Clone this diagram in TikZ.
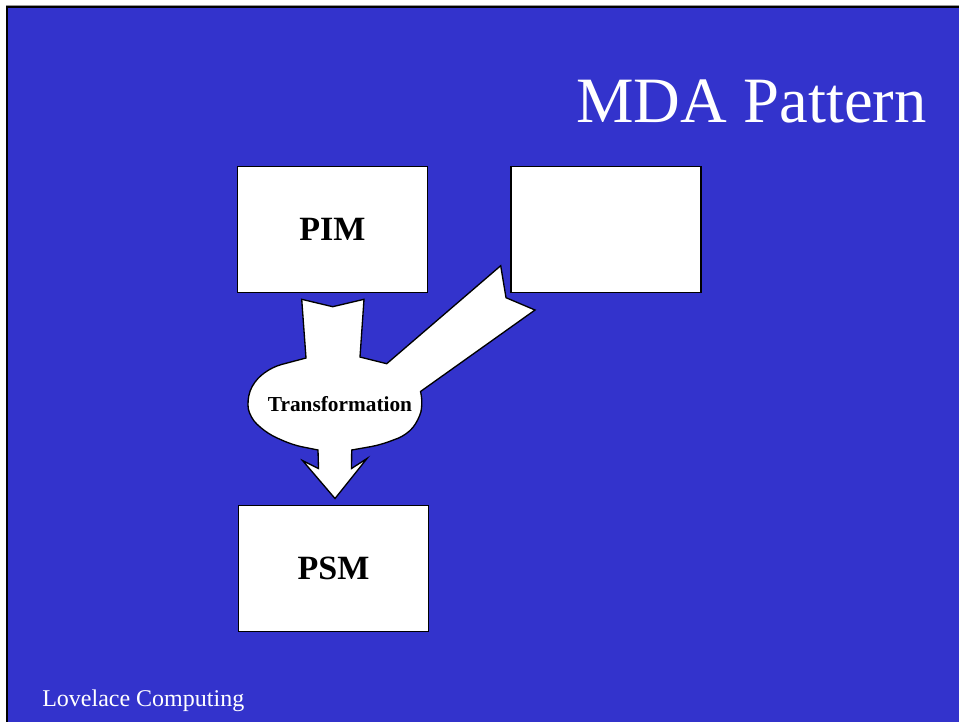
\documentclass[tikz,border=0pt]{standalone}
\usepackage{fontspec}
\setmainfont{Liberation Serif}
\usepackage{tikz}
\usetikzlibrary{positioning}
\definecolor{slideblue}{RGB}{51,51,204}
\definecolor{rulegray}{RGB}{150,150,150}

\begin{document}
\begin{tikzpicture}[
    x=0.75pt, y=-0.75pt,
    model/.style={rectangle, draw=black, fill=white, line width=1.1pt,
      minimum width=142.5pt, minimum height=94.5pt, inner sep=0,
      font=\fontsize{25.5}{28}\selectfont\bfseries},
    flow/.style={draw=black, fill=white, line width=1pt, line join=miter},
    title/.style={text=white, anchor=base east, inner sep=0,
      font=\fontsize{48.5}{54}\selectfont},
    footer/.style={text=white, anchor=base west, inner sep=0,
      font=\fontsize{18}{21}\selectfont},
    step label/.style={inner sep=0, font=\fontsize{16}{18}\selectfont\bfseries}
  ]
  \useasboundingbox (0,0) rectangle (959,722);
  \fill[white] (0,0) rectangle (959,722);
  \fill[slideblue] (7,7) rectangle (959,722);
  \draw[rulegray, line width=0.8pt] (6,5.3) -- (959,5.3);
  \draw[black, line width=1.6pt] (6,7) -- (959,7);
  \draw[black, line width=1.6pt] (7,6) -- (7,722);

  \node[title] (heading) at (927,122.5) {MDA Pattern};
  \node[footer] (company) at (42,706.5) {Lovelace Computing};

  \node[model] (pim) at (332.5,229.3) {PIM};
  \node[model] (pm) at (606,229.3) {};
  \node[model] (psm) at (333.5,568.5) {PSM};

  \draw[flow] (301.7,299.3) -- (332.7,306.7) -- (364,299.3) -- (360,357)
    -- (386.7,363.7) -- (500.7,265.7) -- (506,297.7) -- (535,310)
    -- (420.5,391.5) [rounded corners=7pt] -- (423,403) -- (419,420)
    -- (406.7,435) -- (380,445) [sharp corners] -- (351.7,450)
    -- (351.5,468.5) -- (367,458.5)
    -- (335,498.5) -- (302.7,460.7) -- (318.5,468.5) -- (318,450)
    [rounded corners=7pt] -- (293,445) -- (268,434) -- (250,418)
    -- (246.7,400) -- (254,381) -- (272,367) [sharp corners] -- (306,358) -- cycle;
  \node[step label, anchor=base] (transform) at (340,411) {Transformation};
\end{tikzpicture}
\end{document}
